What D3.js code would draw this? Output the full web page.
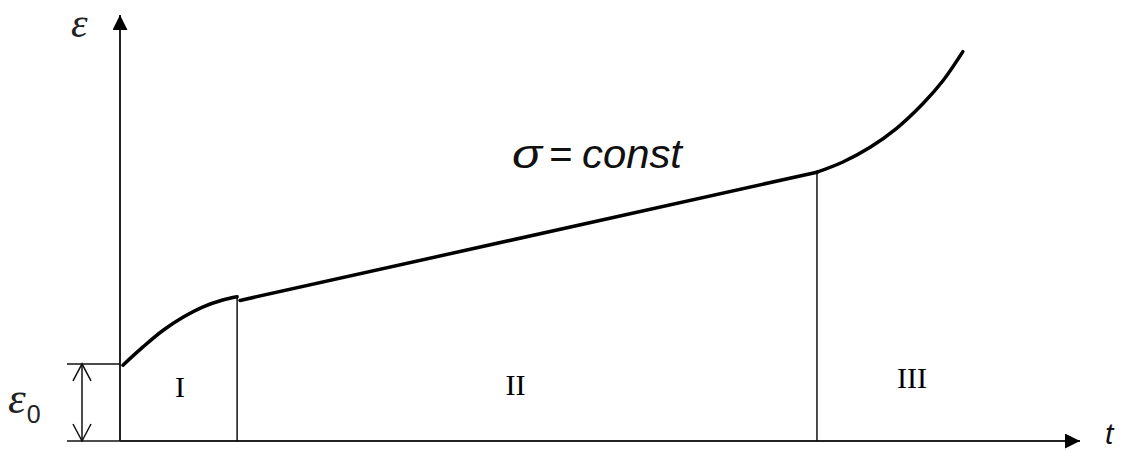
<!DOCTYPE html>
<html>
<head>
<meta charset="utf-8">
<script src="https://cdn.jsdelivr.net/npm/d3@7"></script>
<style>
  html, body { margin: 0; padding: 0; background: #fff; }
  svg { display: block; }
</style>
</head>
<body>
<svg id="chart" width="1128" height="450"></svg>
<script>
// Creep curve: strain ε versus time t at constant stress.
// Stage I (primary), II (steady-state), III (tertiary).
const primaryT   = [0.3, 2.4, 4.5, 6.6, 8.6, 10.7, 12.2];
const primaryE   = [17.8, 22.1, 26.0, 29.1, 31.45, 33.1, 33.85];
const secondaryT = [12.5, 72.6];
const secondaryE = [33.0, 63.1];
const tertiaryT  = [72.6, 75.3, 78.1, 80.9, 83.6, 85.7, 87.8];
const tertiaryE  = [63.1, 65.5, 68.9, 73.4, 79.1, 84.5, 91.4];
const eps0       = 18.1;              // instantaneous strain ε0
const stageBounds = [12.2, 72.6];     // t where stages change
const stageLabels = ["I", "II", "III"];
const stageLabelT = [6.25, 41.2, 82.5];
const stageLabelE = [10.3, 10.8, 12.4];

const svg = d3.select("#chart");
const x = d3.scaleLinear().domain([0, 100]).range([120, 1080]);
const y = d3.scaleLinear().domain([0, 100]).range([441, 15]);

const zip = (ts, es) => ts.map((t, i) => [t, es[i]]);
const line = d3.line().x(d => x(d[0])).y(d => y(d[1])).curve(d3.curveCatmullRom.alpha(0.5));

// arrow markers
const defs = svg.append("defs");
defs.append("marker").attr("id", "solid").attr("viewBox", "0 0 15 15")
  .attr("refX", 15).attr("refY", 7.5).attr("markerWidth", 15).attr("markerHeight", 15)
  .attr("markerUnits", "userSpaceOnUse").attr("orient", "auto")
  .append("path").attr("d", "M0,0 L15,7.5 L0,15 Z").attr("fill", "#000");

// axes
svg.append("line").attr("x1", x(0)).attr("y1", y(0)).attr("x2", x(0)).attr("y2", y(100))
  .attr("stroke", "#222").attr("stroke-width", 2).attr("marker-end", "url(#solid)");
svg.append("line").attr("x1", x(0)).attr("y1", y(0)).attr("x2", x(100)).attr("y2", y(0))
  .attr("stroke", "#222").attr("stroke-width", 2).attr("marker-end", "url(#solid)");

// stage dividers
const boundE = [primaryE[primaryE.length - 1], secondaryE[1]];
svg.selectAll("line.div").data(stageBounds).enter().append("line").attr("class", "div")
  .attr("x1", d => x(d)).attr("x2", d => x(d))
  .attr("y1", y(0)).attr("y2", (d, i) => y(boundE[i]))
  .attr("stroke", "#111").attr("stroke-width", 1.5);

// curve
[zip(primaryT, primaryE), zip(secondaryT, secondaryE), zip(tertiaryT, tertiaryE)].forEach(seg => {
  svg.append("path").attr("d", line(seg)).attr("fill", "none")
    .attr("stroke", "#000").attr("stroke-width", 3.5).attr("stroke-linecap", "round");
});

// ε0 dimension
const dimX = 82;
svg.append("line").attr("x1", 67).attr("x2", x(0)).attr("y1", y(eps0)).attr("y2", y(eps0))
  .attr("stroke", "#111").attr("stroke-width", 1.5);
svg.append("line").attr("x1", 67).attr("x2", x(0)).attr("y1", y(0)).attr("y2", y(0))
  .attr("stroke", "#111").attr("stroke-width", 1.5);
svg.append("line").attr("x1", dimX).attr("x2", dimX).attr("y1", y(eps0)).attr("y2", y(0))
  .attr("stroke", "#111").attr("stroke-width", 1.5);
svg.append("path")
  .attr("d", `M${dimX - 9},${y(eps0) + 17} L${dimX},${y(eps0)} L${dimX + 9},${y(eps0) + 17}` +
             `M${dimX - 9},${y(0) - 17} L${dimX},${y(0)} L${dimX + 9},${y(0) - 17}`)
  .attr("fill", "none").attr("stroke", "#111").attr("stroke-width", 1.5);

// stage labels
svg.selectAll("text.stage").data(stageLabels).enter().append("text").attr("class", "stage")
  .attr("x", (d, i) => x(stageLabelT[i])).attr("y", (d, i) => y(stageLabelE[i]))
  .attr("text-anchor", "middle")
  .attr("font-family", "Liberation Serif, serif").attr("font-size", 30)
  .text(d => d);

// axis labels
svg.append("text").attr("x", 71).attr("y", 37)
  .attr("font-family", "Liberation Serif, serif").attr("font-style", "italic").attr("font-size", 42)
  .attr("fill", "#222").text("ε");
svg.append("text").attr("x", 1105).attr("y", 444)
  .attr("font-family", "Liberation Sans, Arial, sans-serif").attr("font-style", "italic").attr("font-size", 30)
  .attr("fill", "#111").text("t");
const e0 = svg.append("text").attr("x", 8).attr("y", 413)
  .attr("font-family", "Liberation Serif, serif").attr("font-size", 45).attr("fill", "#222");
e0.append("tspan").attr("font-style", "italic").text("ε");
e0.append("tspan").attr("font-family", "Liberation Sans, Arial, sans-serif")
  .attr("font-size", 25).attr("dy", 10).attr("dx", 1).text("0");

// σ = const annotation
const ann = svg.append("g").attr("font-family", "Liberation Sans, Arial, sans-serif").attr("font-size", 40).attr("fill", "#111");
ann.append("text").attr("x", 512).attr("y", 168).attr("font-style", "italic")
  .attr("textLength", 30).attr("lengthAdjust", "spacingAndGlyphs").text("σ");
ann.append("text").attr("x", 561).attr("y", 168).attr("text-anchor", "middle").text("=");
ann.append("text").attr("x", 582).attr("y", 168).attr("font-style", "italic")
  .attr("textLength", 100).attr("lengthAdjust", "spacingAndGlyphs").text("const");
</script>
</body>
</html>
